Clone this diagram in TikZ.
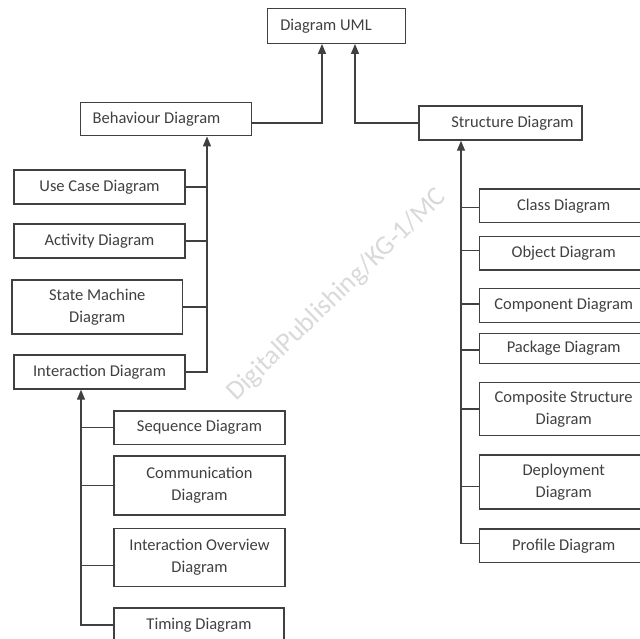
\documentclass[tikz,border=0pt]{standalone}
\usepackage{fontspec}
\setmainfont{Carlito}
\usetikzlibrary{arrows.meta,calc}
\definecolor{ink}{HTML}{404040}
\begin{document}
\begin{tikzpicture}[x=1pt,y=-1pt,
  every node/.style={font=\fontsize{16.5}{22}\selectfont, text=ink},
  box/.style={draw=ink, line width=1.4pt, inner sep=0pt, align=center, fill=white},
  link/.style={draw=ink, line width=1.3pt},
  arr/.style={link, -{Triangle[width=8pt,length=10pt]}},
  wmark/.style={font=\fontsize{20}{20}\selectfont, text=black!15, rotate=44}]
\useasboundingbox (0,0) rectangle (640,639);
\clip (0,0) rectangle (640,639);

% watermark
\node[wmark] (wm) at (337,295) {\resizebox{293pt}{!}{DigitalPublishing/KG-1/MC}};

% root and its two branches
\node[box, minimum width=138.5pt, minimum height=34.5pt] (uml) at (336.5,26) {Diagram UML\hspace*{21pt}};
\node[box, minimum width=171pt, minimum height=33.5pt] (beh) at (166,119) {Behaviour Diagram\hspace*{19pt}};
\node[box, minimum width=163pt, minimum height=34pt] (str) at (500.5,123) {\hspace*{24pt}Structure Diagram};

% behaviour diagrams
\node[box, minimum width=171pt, minimum height=34pt] (uc) at (99.5,187) {Use Case Diagram};
\node[box, minimum width=171pt, minimum height=34pt] (act) at (99.5,241) {Activity Diagram};
\node[box, minimum width=170.7pt, minimum height=54pt] (sm) at (97.3,307) {State Machine\\Diagram};
\node[box, minimum width=171pt, minimum height=34pt] (inter) at (99.5,372) {Interaction Diagram};

% interaction diagrams
\node[box, minimum width=171pt, minimum height=33.3pt] (seq) at (199.5,427.7) {Sequence Diagram};
\node[box, minimum width=171pt, minimum height=59pt] (comm) at (199.5,485.5) {Communication\\Diagram};
\node[box, minimum width=171pt, minimum height=58.4pt] (iov) at (199.5,557.5) {Interaction Overview\\Diagram};
\node[box, minimum width=170pt, minimum height=34pt] (tim) at (199,625) {Timing Diagram};

% structure diagrams
\node[box, minimum width=168.7pt, minimum height=33.7pt] (cls) at (563.7,205.8) {Class Diagram};
\node[box, minimum width=168.7pt, minimum height=33.3pt] (obj) at (563.7,253.3) {Object Diagram};
\node[box, minimum width=168.7pt, minimum height=34.4pt] (cmp) at (563.7,305.5) {Component Diagram};
\node[box, minimum width=168.7pt, minimum height=30pt] (pkg) at (563.7,348.3) {Package Diagram};
\node[box, minimum width=168.7pt, minimum height=53.4pt] (cs) at (563.7,409) {Composite Structure\\Diagram};
\node[box, minimum width=168.7pt, minimum height=54pt] (dep) at (563.7,482) {Deployment\\Diagram};
\node[box, minimum width=168.7pt, minimum height=33.3pt] (prf) at (563.7,545.7) {Profile Diagram};

% trunk coordinates
\coordinate (ua) at ([xshift=-14.5pt]uml.south);
\coordinate (ub) at ([xshift=18.5pt]uml.south);
\coordinate (bt) at ([xshift=41pt]beh.south);
\coordinate (it) at ([xshift=-18.5pt]inter.south);
\coordinate (st) at ([xshift=-39.5pt]str.south);

% root links
\draw[arr] (beh.east |- str.west) -| (ua);
\draw[arr] (str.west) -| (ub);

% behaviour tree
\draw[arr] (inter.east) -| (bt);
\draw[link] (uc.east) -- (uc.east -| bt);
\draw[link] (act.east) -- (act.east -| bt);
\draw[link] (sm.east) -- (sm.east -| bt);

% interaction tree
\draw[arr] (tim.west) -| (it);
\draw[link] (seq.west) -- (seq.west -| it);
\draw[link] (comm.west) -- (comm.west -| it);
\draw[link] ([yshift=-8pt]iov.west) -- ([yshift=-8pt]iov.west -| it);

% structure tree
\draw[arr] ([yshift=2.5pt]prf.west) -| (st);
\draw[link] ([yshift=-1.8pt]cls.west) -- ([yshift=-1.8pt]cls.west -| st);
\draw[link] ([yshift=2.7pt]obj.west) -- ([yshift=2.7pt]obj.west -| st);
\draw[link] ([yshift=1.5pt]cmp.west) -- ([yshift=1.5pt]cmp.west -| st);
\draw[link] ([yshift=-1.6pt]pkg.west) -- ([yshift=-1.6pt]pkg.west -| st);
\draw[link] (cs.west) -- (cs.west -| st);
\draw[link] ([yshift=-4.7pt]dep.west) -- ([yshift=-4.7pt]dep.west -| st);
\end{tikzpicture}
\end{document}
